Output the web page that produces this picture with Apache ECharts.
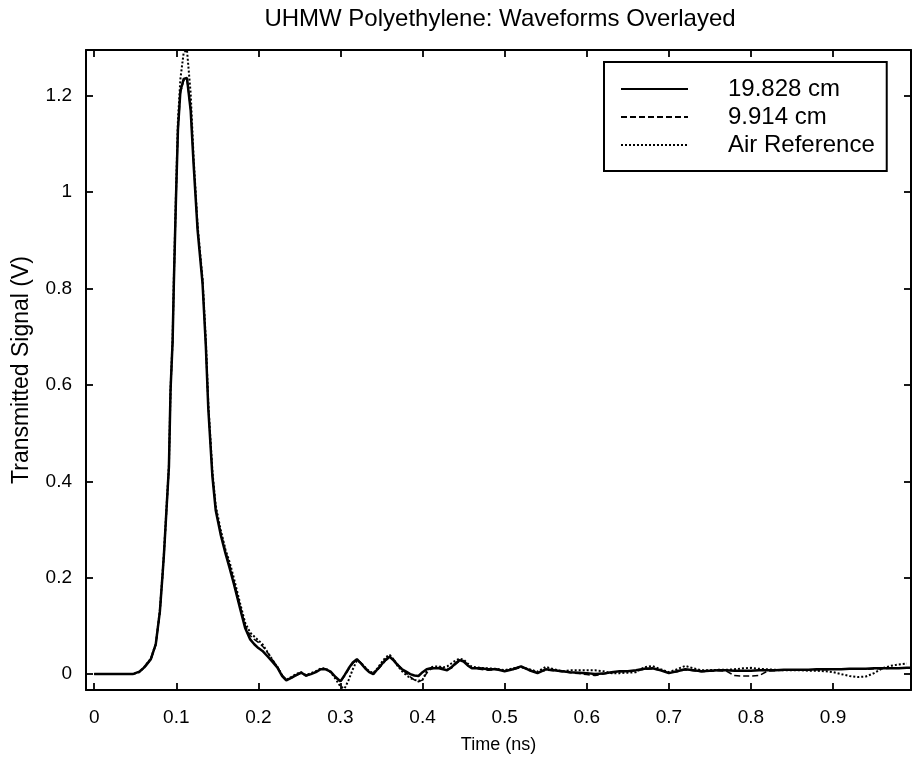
<!DOCTYPE html>
<html>
<head>
<meta charset="utf-8">
<script src="https://cdn.jsdelivr.net/npm/echarts@6/dist/echarts.min.js"></script>
<style>
html,body{margin:0;padding:0;background:#fff;}
#chart{width:912px;height:759px;}
</style>
</head>
<body>
<div id="chart"></div>
<script>
// ---- data (time in ns, signal in V) ----
var times = [0, 0.02, 0.047, 0.055, 0.061, 0.069, 0.075, 0.08, 0.083, 0.085, 0.088, 0.091, 0.093, 0.0955, 0.097, 0.0995, 0.102, 0.105, 0.109, 0.113, 0.1175, 0.121, 0.126, 0.132, 0.136, 0.139, 0.144, 0.148, 0.154, 0.16, 0.165, 0.17, 0.178, 0.184, 0.19, 0.195, 0.2, 0.205, 0.211, 0.217, 0.223, 0.229, 0.234, 0.24, 0.246, 0.252, 0.258, 0.264, 0.27, 0.276, 0.282, 0.288, 0.294, 0.3, 0.305, 0.31, 0.315, 0.32, 0.325, 0.33, 0.335, 0.34, 0.345, 0.35, 0.355, 0.36, 0.365, 0.37, 0.375, 0.38, 0.385, 0.39, 0.395, 0.4, 0.405, 0.41, 0.415, 0.42, 0.425, 0.43, 0.435, 0.44, 0.445, 0.45, 0.455, 0.46, 0.47, 0.48, 0.49, 0.5, 0.51, 0.52, 0.53, 0.54, 0.55, 0.56, 0.57, 0.58, 0.59, 0.6, 0.61, 0.62, 0.63, 0.64, 0.65, 0.66, 0.67, 0.68, 0.69, 0.7, 0.71, 0.72, 0.73, 0.74, 0.75, 0.76, 0.77, 0.78, 0.79, 0.8, 0.81, 0.82, 0.83, 0.84, 0.85, 0.86, 0.87, 0.88, 0.89, 0.9, 0.91, 0.92, 0.93, 0.94, 0.95, 0.96, 0.97, 0.98, 0.99, 1.0];

var sig19828 = [0, 0, 0, 0.005, 0.014, 0.031, 0.062, 0.13, 0.2, 0.25, 0.34, 0.43, 0.59, 0.69, 0.81, 0.98, 1.13, 1.21, 1.235, 1.237, 1.17, 1.06, 0.92, 0.81, 0.68, 0.55, 0.41, 0.34, 0.29, 0.25, 0.22, 0.188, 0.134, 0.095, 0.072, 0.062, 0.054, 0.048, 0.037, 0.026, 0.014, -0.004, -0.013, -0.008, -0.002, 0.003, -0.003, 0.0, 0.004, 0.01, 0.01, 0.005, -0.006, -0.015, -0.002, 0.012, 0.024, 0.031, 0.022, 0.012, 0.004, 0.0, 0.01, 0.02, 0.03, 0.036, 0.028, 0.018, 0.01, 0.005, 0.0, -0.003, -0.004, 0.004, 0.01, 0.012, 0.012, 0.012, 0.01, 0.008, 0.014, 0.022, 0.029, 0.026, 0.018, 0.012, 0.012, 0.01, 0.01, 0.006, 0.01, 0.016, 0.008, 0.002, 0.01, 0.008, 0.006, 0.004, 0.003, 0.002, 0.0, 0.001, 0.004, 0.006, 0.006, 0.008, 0.011, 0.012, 0.008, 0.002, 0.006, 0.01, 0.008, 0.006, 0.007, 0.008, 0.008, 0.007, 0.007, 0.007, 0.008, 0.008, 0.008, 0.009, 0.009, 0.009, 0.009, 0.01, 0.01, 0.01, 0.01, 0.011, 0.011, 0.011, 0.012, 0.012, 0.012, 0.012, 0.013, 0.013];

var sig9914 = [0, 0, 0, 0.004, 0.013, 0.03, 0.06, 0.128, 0.198, 0.248, 0.336, 0.428, 0.585, 0.685, 0.805, 0.975, 1.125, 1.205, 1.232, 1.235, 1.172, 1.065, 0.925, 0.815, 0.685, 0.555, 0.415, 0.345, 0.295, 0.255, 0.226, 0.194, 0.14, 0.1, 0.08, 0.072, 0.066, 0.058, 0.045, 0.03, 0.016, -0.002, -0.012, -0.008, -0.003, 0.002, -0.004, 0.0, 0.005, 0.011, 0.01, 0.004, -0.007, -0.016, -0.004, 0.01, 0.022, 0.03, 0.024, 0.014, 0.005, 0.001, 0.008, 0.018, 0.028, 0.034, 0.03, 0.02, 0.01, 0.002, -0.006, -0.012, -0.016, -0.012, 0.002, 0.01, 0.013, 0.014, 0.012, 0.01, 0.012, 0.02, 0.027, 0.028, 0.02, 0.013, 0.01, 0.008, 0.009, 0.007, 0.009, 0.014, 0.009, 0.004, 0.008, 0.007, 0.005, 0.003, 0.001, -0.001, -0.003, 0.0, 0.003, 0.005, 0.006, 0.007, 0.01, 0.011, 0.008, 0.003, 0.005, 0.009, 0.007, 0.005, 0.006, 0.007, 0.006, -0.003, -0.004, -0.004, -0.003, 0.006, 0.007, 0.008, 0.008, 0.008, 0.009, 0.009, 0.009, 0.01, 0.01, 0.01, 0.01, 0.01, 0.011, 0.011, 0.012, 0.012, 0.012, 0.012];

var sigAir = [0, 0, 0, 0.004, 0.015, 0.032, 0.063, 0.132, 0.202, 0.252, 0.342, 0.432, 0.592, 0.695, 0.82, 0.99, 1.15, 1.235, 1.29, 1.295, 1.205, 1.075, 0.93, 0.82, 0.69, 0.56, 0.42, 0.35, 0.3, 0.258, 0.232, 0.2, 0.145, 0.106, 0.086, 0.078, 0.07, 0.062, 0.046, 0.03, 0.015, -0.003, -0.012, -0.006, 0.0, 0.004, -0.002, 0.002, 0.006, 0.012, 0.012, 0.004, -0.01, -0.026, -0.03, -0.012, 0.01, 0.028, 0.024, 0.014, 0.006, 0.002, 0.012, 0.024, 0.035, 0.04, 0.03, 0.016, 0.006, -0.002, -0.008, -0.012, -0.014, -0.012, 0.006, 0.014, 0.016, 0.016, 0.014, 0.016, 0.022, 0.028, 0.032, 0.03, 0.022, 0.015, 0.013, 0.012, 0.011, 0.008, 0.012, 0.015, 0.01, 0.005, 0.015, 0.01, 0.006, 0.008, 0.008, 0.008, 0.008, 0.006, 0.002, 0.002, 0.003, 0.004, 0.014, 0.017, 0.01, 0.004, 0.01, 0.017, 0.012, 0.008, 0.008, 0.009, 0.009, 0.01, 0.012, 0.013, 0.011, 0.01, 0.009, 0.008, 0.008, 0.008, 0.007, 0.007, 0.006, 0.004, 0.0, -0.004, -0.006, -0.005, 0.002, 0.012, 0.017, 0.02, 0.022];

var seriesNames = ['19.828 cm', '9.914 cm', 'Air Reference'];
var xTicks = [0, 0.1, 0.2, 0.3, 0.4, 0.5, 0.6, 0.7, 0.8, 0.9];
var yTicks = [0, 0.2, 0.4, 0.6, 0.8, 1, 1.2];

function pairs(vals) {
  return times.map(function (t, i) { return [t, vals[i]]; });
}

var FONT = 'Liberation Sans, Arial, Helvetica, sans-serif';
var chart = echarts.init(document.getElementById('chart'), null, {renderer: 'canvas'});

var axisLineStyle = {color: '#000', width: 2};
function xAxisDef(pos, showLabels) {
  return {
    type: 'value', position: pos, min: -0.01, max: 0.995,
    axisLine: {show: true, onZero: false, lineStyle: axisLineStyle},
    axisTick: {show: true, inside: true, length: 7, customValues: xTicks, lineStyle: {color: '#000', width: 1.8}},
    axisLabel: {show: showLabels, customValues: xTicks, color: '#000', fontSize: 19, fontFamily: FONT, margin: 18},
    splitLine: {show: false},
    name: showLabels ? 'Time (ns)' : '',
    nameLocation: 'middle', nameGap: 46,
    nameTextStyle: {color: '#000', fontSize: 18, fontFamily: FONT}
  };
}
function yAxisDef(pos, showLabels) {
  return {
    type: 'value', position: pos, min: -0.033, max: 1.295,
    axisLine: {show: true, onZero: false, lineStyle: axisLineStyle},
    axisTick: {show: true, inside: true, length: 7, customValues: yTicks, lineStyle: {color: '#000', width: 1.8}},
    axisLabel: {show: showLabels, customValues: yTicks, color: '#000', fontSize: 19, fontFamily: FONT, margin: 14},
    splitLine: {show: false},
    name: showLabels ? 'Transmitted Signal (V)' : '',
    nameLocation: 'middle', nameGap: 53,
    nameTextStyle: {color: '#000', fontSize: 23, fontFamily: FONT}
  };
}

var option = {
  animation: false,
  backgroundColor: '#fff',
  title: {
    text: 'UHMW Polyethylene: Waveforms Overlayed',
    left: 495, top: 2, textAlign: 'center',
    textStyle: {color: '#000', fontSize: 24, fontWeight: 'normal', fontFamily: FONT}
  },
  grid: {left: 86, right: 1, top: 50, bottom: 65, containLabel: false},
  legend: {
    orient: 'vertical', left: 604, top: 62,
    data: seriesNames,
    itemWidth: 67, itemHeight: 14, itemGap: 4,
    padding: [15, 12, 14, 16],
    borderColor: '#000', borderWidth: 2, backgroundColor: '#fff',
    itemStyle: {color: 'rgba(0,0,0,0)', borderWidth: 0},
    textStyle: {color: '#000', fontSize: 24, lineHeight: 23, fontFamily: FONT, padding: [0, 0, 0, 35]}
  },
  xAxis: [xAxisDef('bottom', true), xAxisDef('top', false)],
  yAxis: [yAxisDef('left', true), yAxisDef('right', false)],
  series: [
    {name: seriesNames[0], type: 'line', data: pairs(sig19828), symbol: 'none', showSymbol: false,
     lineStyle: {color: '#000', width: 2.5, type: 'solid'}, itemStyle: {color: '#000'}, z: 3},
    {name: seriesNames[1], type: 'line', data: pairs(sig9914), symbol: 'none', showSymbol: false,
     lineStyle: {color: '#000', width: 1.5, type: [6, 3]}, itemStyle: {color: '#000'}, z: 4},
    {name: seriesNames[2], type: 'line', data: pairs(sigAir), symbol: 'none', showSymbol: false,
     lineStyle: {color: '#000', width: 2, type: [2, 2]}, itemStyle: {color: '#000'}, z: 5}
  ]
};
chart.setOption(option);
</script>
</body>
</html>
